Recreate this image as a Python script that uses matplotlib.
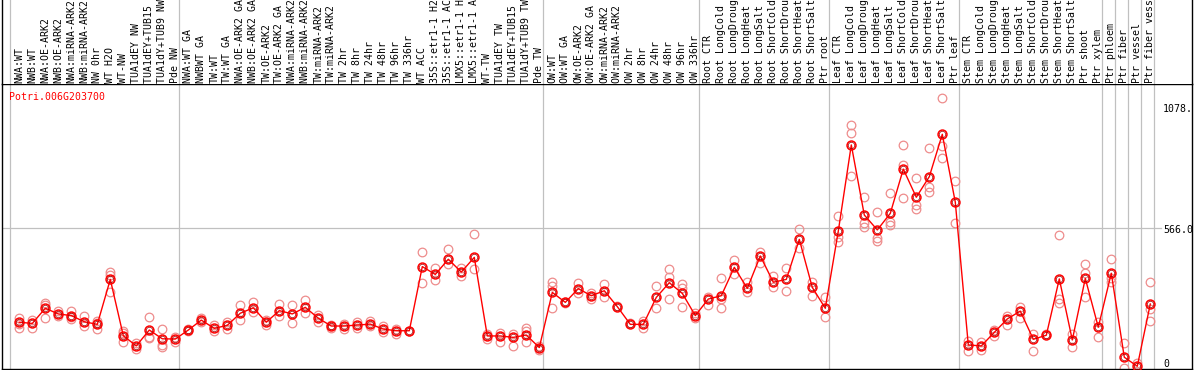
import numpy as np
import matplotlib
matplotlib.use("Agg")
import matplotlib.pyplot as plt
import matplotlib.transforms as mtransforms

TITLE = "Potri.006G203700"

SAMPLES = [
    "NWA:WT", "NWB:WT", "NWA:OE-ARK2", "NWB:OE-ARK2", "NWA:miRNA-ARK2", "NWB:miRNA-ARK2",
    "NW 0hr", "WT H2O", "WT-NW", "TUA1dEY NW", "TUA1dEY+TUB15 NW", "TUA1dY+TUB9 NW", "Pde NW",
    "NWA:WT GA", "NWBWT GA", "TW:WT", "TW:WT GA", "NWA:OE-ARK2 GA", "NWB:OE-ARK2 GA",
    "TW:OE-ARK2", "TW:OE-ARK2 GA", "NWA:miRNA-ARK2 GA", "NWB:miRNA-ARK2 GA", "TW:miRNA-ARK2",
    "TW:miRNA-ARK2 GA", "TW 2hr", "TW 8hr", "TW 24hr", "TW 48hr", "TW 96hr", "TW 336hr",
    "WT ACC", "35S::etr1-1 H2O", "35S::etr1-1 ACC", "LMX5::etr1-1 H2O", "LMX5::etr1-1 ACC",
    "WT-TW", "TUA1dEY TW", "TUA1dEY+TUB15 TW", "TUA1dY+TUB9 TW", "Pde TW",
    "OW:WT", "OW:WT GA", "OW:OE-ARK2", "OW:OE-ARK2 GA", "OW:miRNA-ARK2", "OW:miRNA-ARK2 GA",
    "OW 2hr", "OW 8hr", "OW 24hr", "OW 48hr", "OW 96hr", "OW 336hr",
    "Root CTR", "Root LongCold", "Root LongDrought", "Root LongHeat", "Root LongSalt",
    "Root ShortCold", "Root ShortDrought", "Root ShortHeat", "Root ShortSalt", "Ptr root",
    "Leaf CTR", "Leaf LongCold", "Leaf LongDrought", "Leaf LongHeat", "Leaf LongSalt",
    "Leaf ShortCold", "Leaf ShortDrought", "Leaf ShortHeat", "Leaf ShortSalt", "Ptr leaf",
    "Stem CTR", "Stem LongCold", "Stem LongDrought", "Stem LongHeat", "Stem LongSalt",
    "Stem ShortCold", "Stem ShortDrought", "Stem ShortHeat", "Stem ShortSalt",
    "Ptr shoot", "Ptr xylem", "Ptr phloem", "Ptr fiber", "Ptr vessel", "Ptr fiber vessel",
]

# index of first sample of each group (gray separators)
GROUP_STARTS = [0, 13, 41, 53, 63, 73, 84, 85, 86, 87, 88]

MEANS = [
    168, 163, 227, 203, 196, 170, 159, 349, 111, 68, 135, 98, 97,
    135, 177, 142, 155, 206, 229, 168, 217, 203, 231, 185, 152, 152, 156, 160, 139, 132, 132,
    403, 370, 434, 380, 442, 110, 110, 104, 114, 61,
    294, 252, 310, 280, 301, 234, 159, 159, 273, 335, 290, 196,
    266, 280, 400, 311, 448, 337, 349, 518, 315, 227,
    553, 917, 621, 558, 628, 815, 696, 783, 962, 675,
    72, 68, 125, 182, 215, 96, 113, 351, 93, 353, 147,
    375, 20, -18, 245,
]

REPLICATES = [
    [187, 145, 160], [177, 142], [250, 241, 185], [217, 194], [215, 180, 190], [194, 152],
    [175, 141, 165], [382, 367, 297], [132, 83, 122], [79, 54], [191, 100, 106], [139, 72, 62],
    [107, 86],
    [140, 130], [185, 170], [155, 132], [168, 140], [241, 177], [255, 213], [178, 158],
    [244, 194], [241, 163], [262, 206], [198, 170], [156, 145], [162, 138], [168, 143],
    [175, 150], [150, 125], [141, 120], [132],
    [463, 332], [396, 346], [476, 413], [396, 365], [539, 392], [120, 97], [124, 83],
    [118, 69], [142, 132, 83], [66, 52],
    [339, 321, 229], [255, 250], [332, 293], [293, 266], [330, 273], [237], [163],
    [174, 145], [321, 229], [392, 358, 265], [330, 311, 231], [208, 185],
    [276, 241], [353, 265, 229], [431, 372], [337, 294], [463, 420], [363, 318],
    [396, 301], [564, 480], [337, 279], [273, 191],
    [617, 529, 508], [1001, 966, 786], [698, 586, 572], [632, 523, 513], [713, 593, 579],
    [917, 832, 692], [776, 663, 645], [903, 741, 720], [1114, 912, 860], [765, 586],
    [90, 48], [85, 52], [135, 110], [194, 156], [234, 187], [118, 48], [117],
    [537, 265, 248], [117, 65], [414, 377, 273], [170, 104],
    [434, 353, 339], [79, -27], [-5], [337, 223, 175],
]

Y_TICKS = [0, 566, 1078]
Y_TICK_LABELS = ["0", "566.0", "1078."]

W, H = 1194, 370
PX = 13.0          # pixels per sample
X0 = 19.3          # pixel of first sample
GRID = "#c0c0c0"
FONT = "DejaVu Sans Mono"
FS = 7.1


def px_to_x(p):
    return (p - X0) / PX


fig = plt.figure(figsize=(W / 100, H / 100), dpi=100)
left = 1.5 / W
width = (1192 - 1.5) / W
ax = fig.add_axes([left, 1.0 / H, width, (369 - 84) / H])
ax_lab = fig.add_axes([left, (H - 84) / H, width, 84 / H + 0.02])

xlim = (px_to_x(1.5), px_to_x(1192))
for a in (ax, ax_lab):
    a.set_xlim(*xlim)
    a.set_xticks([])
    a.set_yticks([])
    for s in a.spines.values():
        s.set_color("black")
        s.set_linewidth(1.0)
    for g in GROUP_STARTS:
        a.axvline(g - 0.7, color=GRID, lw=0.9, zorder=0)

ax_lab.spines["top"].set_visible(False)
ax_lab.spines["bottom"].set_visible(False)
ax_lab.set_ylim(0, 1)

ax.set_ylim(-29.6, 1174.5)
ax.plot([xlim[0], px_to_x(1161)], [566, 566], color=GRID, lw=0.9, zorder=0)

x = np.arange(len(SAMPLES))
for i, reps in enumerate(REPLICATES):
    ax.plot([i] * len(reps), reps, "o", ms=6.2, mfc="none", mec="#ee8c8c", mew=0.9, zorder=2)

ax.plot(x, MEANS, "-", color="red", lw=1.0, zorder=3)
ax.plot(x, MEANS, "o", ms=6.4, mfc="none", mec="red", mew=1.1, zorder=4)
ax.plot(x, MEANS, "o", ms=4.6, mfc="none", mec="#a00000", mew=0.5, zorder=5)

# right-hand value labels, nudged down a touch like the original
shift = mtransforms.ScaledTranslation(0, -2 / 100, fig.dpi_scale_trans)
for v, lab in zip(Y_TICKS, Y_TICK_LABELS):
    ax.text(px_to_x(1163), v, lab, ha="left", va="center", fontsize=FS, family=FONT,
            color="black", transform=ax.transData + shift)

# sample id in the upper left corner
ax.text(px_to_x(9), 1 - 8 / 285, TITLE, transform=ax.get_xaxis_transform(), ha="left", va="top",
        fontsize=FS, family=FONT, color="red")

for i, lab in enumerate(SAMPLES):
    ax_lab.text(i, 1.0 / 84, lab, rotation=90, ha="center", va="bottom",
                fontsize=FS, family=FONT, color="black")

fig.savefig("out.png", dpi=100)
